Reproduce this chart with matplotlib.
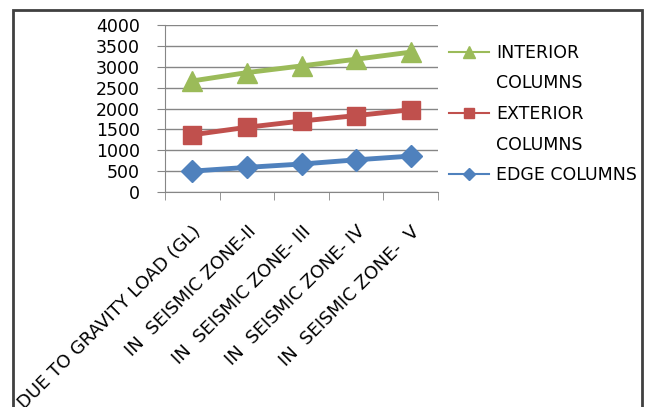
import matplotlib.pyplot as plt
from matplotlib.lines import Line2D
from matplotlib.patches import Rectangle

categories = ["DUE TO GRAVITY LOAD (GL)", "IN  SEISMIC ZONE-II", "IN  SEISMIC ZONE- III",
              "IN  SEISMIC ZONE- IV", "IN  SEISMIC ZONE-  V"]
edge = [500, 590, 670, 770, 860]
exterior = [1370, 1550, 1700, 1830, 1970]
interior = [2660, 2860, 3020, 3180, 3350]

plt.rcParams['font.family'] = 'DejaVu Sans'

fig = plt.figure(figsize=(6.51, 4.07), dpi=100)
ax = fig.add_axes([165 / 651, 1 - 192 / 407, (438 - 165) / 651, (192 - 25) / 407])

x = list(range(len(categories)))
l_edge, = ax.plot(x, edge, color="#4F81BD", lw=3.5, marker="D", ms=11)
l_ext, = ax.plot(x, exterior, color="#C0504D", lw=3.5, marker="s", ms=13)
l_int, = ax.plot(x, interior, color="#9BBB59", lw=3.5, marker="^", ms=14)

ax.set_xlim(-0.5, 4.5)
ax.set_ylim(0, 4000)
ax.set_yticks(range(0, 4001, 500))
ax.yaxis.grid(True, color="#868686", lw=1)
ax.set_axisbelow(True)
for s in ["top", "right"]:
    ax.spines[s].set_visible(False)
for s in ["left", "bottom"]:
    ax.spines[s].set_color("#868686")
ax.tick_params(axis="y", length=6, color="#868686", labelsize=12.5, pad=12)

ax.set_xticks(x)
ax.set_xticks([i - 0.5 for i in range(len(categories) + 1)], minor=True)
ax.tick_params(axis="x", which="minor", length=6, color="#868686")
ax.tick_params(axis="x", which="major", length=0, pad=22)
ax.set_xticklabels(categories, rotation=45, ha="right", va="top", rotation_mode="anchor", fontsize=13)

frame = Rectangle((13 / 651, -0.1), (642 - 13) / 651, 1.1 - 10 / 407, transform=fig.transFigure,
                  fill=False, edgecolor="#404040", lw=2, clip_on=False)
fig.patches.append(frame)
for t in ax.get_xticklabels():
    t.set_clip_path(frame)

# legend: handle sits on the first line of each label, like Excel
blank = Line2D([], [], color="none")
handles = [l_int, blank, l_ext, blank, l_edge]
labels = ["INTERIOR", "COLUMNS", "EXTERIOR", "COLUMNS", "EDGE COLUMNS"]
leg = fig.legend(handles, labels, loc="upper left", bbox_to_anchor=(449 / 651, 1 - 44 / 407),
                 frameon=False, fontsize=12.5, markerscale=0.6, handlelength=2.3, handletextpad=0.4,
                 labelspacing=0.72, borderaxespad=0, borderpad=0)
for h in leg.legend_handles:
    h.set_linewidth(1.5)

fig.savefig("out.png", dpi=100)
